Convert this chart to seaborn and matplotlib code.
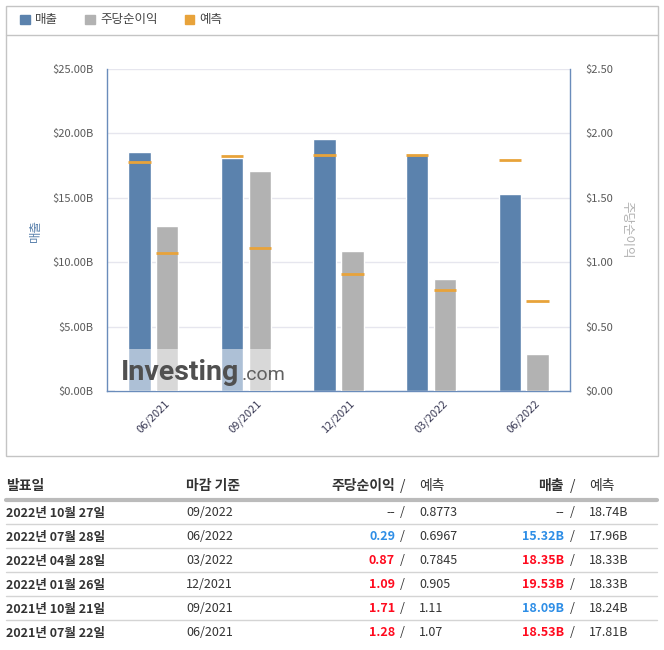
import matplotlib
matplotlib.use('Agg')
import matplotlib.pyplot as plt
from matplotlib.patches import Patch, Rectangle
from matplotlib.lines import Line2D
import numpy as np
import pandas as pd
import seaborn as sns

# quarters, oldest first (last one not reported yet)
periods = ['06/2021', '09/2021', '12/2021', '03/2022', '06/2022', '09/2022']
release_dates = ['2021년 07월 22일', '2021년 10월 21일', '2022년 01월 26일',
                 '2022년 04월 28일', '2022년 07월 28일', '2022년 10월 27일']
eps_actual = [1.28, 1.71, 1.09, 0.87, 0.29, None]
eps_forecast = [1.07, 1.11, 0.905, 0.7845, 0.6967, 0.8773]
rev_actual = [18.53, 18.09, 19.53, 18.35, 15.32, None]      # billions
rev_forecast = [17.81, 18.24, 18.33, 18.33, 17.96, 18.74]

BLUE = '#5b82ad'
GRAY = '#b2b2b2'
ORANGE = '#e8a33a'
AXC = '#6a8cbb'
RED = '#ff0a1e'
LBLUE = '#2e8ee6'
DARK = '#333333'

sns.set_theme(style='white')
plt.rcParams['font.family'] = ['Noto Sans CJK KR', 'DejaVu Sans']

W, H = 664, 650
fig = plt.figure(figsize=(W / 100, H / 100), dpi=100)


def fx(x):
    return x / W


def fy(y):
    return 1 - y / H


ax = fig.add_axes([fx(107), fy(391), (570 - 107) / W, (391 - 69) / H])
ax2 = ax.twinx()

n = 5
chart = pd.DataFrame({'period': periods[:n], '매출': rev_actual[:n], '주당순이익': eps_actual[:n]})
long = chart.melt(id_vars='period', var_name='series', value_name='value')
hue_order = ['매출', '주당순이익']
palette = {'매출': BLUE, '주당순이익': GRAY}

sns.barplot(data=long[long.series == '매출'], x='period', y='value', hue='series',
            hue_order=hue_order, palette=palette, order=periods[:n], width=0.6, gap=0.2,
            dodge=True, saturation=1, legend=False, ax=ax)
sns.barplot(data=long[long.series == '주당순이익'], x='period', y='value', hue='series',
            hue_order=hue_order, palette=palette, order=periods[:n], width=0.6, gap=0.2,
            dodge=True, saturation=1, legend=False, ax=ax2)

# forecast markers across each bar
for a, fc in ((ax, rev_forecast), (ax2, eps_forecast)):
    bars = sorted(a.patches, key=lambda p: p.get_x())
    for p, v in zip(bars, fc[:n]):
        a.hlines(v, p.get_x(), p.get_x() + p.get_width(), color=ORANGE, lw=2, zorder=5)

ax.set_ylim(0, 25)
ax2.set_ylim(0, 2.5)
ax.set_xlim(-0.5, n - 0.5)
lt = np.arange(0, 25.01, 5)
ax.set_yticks(lt)
ax.set_yticklabels([f'${v:.2f}B' for v in lt])
rt = np.arange(0, 2.501, 0.5)
ax2.set_yticks(rt)
ax2.set_yticklabels([f'${v:.2f}' for v in rt])
ax.tick_params(axis='y', length=0, pad=10, labelsize=8, labelcolor='#5a5a5a')
ax2.tick_params(axis='y', length=0, pad=11, labelsize=8, labelcolor='#5a5a5a')

ax.set_xticks(range(n))
ax.set_xticklabels(periods[:n], rotation=45, ha='center', va='top')
ax.tick_params(axis='x', length=0, pad=5, labelsize=8, labelcolor='#3a3a55')
ax.set_xticks(np.arange(-0.5, n, 1), minor=True)
ax.tick_params(axis='x', which='minor', length=5, width=1, color=AXC, direction='out')

ax.set_xlabel('')
ax.set_ylabel('')
ax2.set_ylabel('')
ax.yaxis.grid(True, color='#e6e6ee', lw=1)
ax.xaxis.grid(False)
ax2.grid(False)
ax.set_axisbelow(True)

for s in ('top', 'right'):
    ax.spines[s].set_visible(False)
for s in ('left', 'bottom'):
    ax.spines[s].set_color(AXC)
    ax.spines[s].set_linewidth(1)
for s in ('top', 'left', 'bottom'):
    ax2.spines[s].set_visible(False)
ax2.spines['right'].set_color(AXC)
ax2.spines['right'].set_linewidth(1)

fig.text(fx(35), fy(230), '매출', rotation=90, color=BLUE, fontsize=9, ha='center', va='center')
fig.text(fx(627), fy(230), '주당순이익', rotation=270, color='#b0b0b0', fontsize=9,
         ha='center', va='center')

# watermark
fig.add_artist(Rectangle((fx(115), fy(391)), (290 - 115) / W, (391 - 349) / H,
                         transform=fig.transFigure, color='white', alpha=0.5, lw=0, zorder=1))
fig.text(fx(121), fy(380), 'Investing', fontsize=20.5, fontweight='bold', family='Roboto',
         color='#505050', va='baseline', zorder=3)
fig.text(fx(242), fy(380), '.com', fontsize=14, family='Roboto', color='#606060',
         va='baseline', zorder=3)

# chart frame + legend
fig.add_artist(Rectangle((fx(6), fy(456)), (658 - 6) / W, (456 - 6) / H,
                         transform=fig.transFigure, fill=False, ec='#c4c4c4', lw=1))
fig.add_artist(Line2D([fx(6), fx(658)], [fy(35), fy(35)], color='#c4c4c4', lw=1))
handles = [Patch(color=BLUE, label='매출'), Patch(color=GRAY, label='주당순이익'),
           Patch(color=ORANGE, label='예측')]
fig.legend(handles=handles, loc='center left', bbox_to_anchor=(fx(9), fy(20)), ncol=3,
           frameon=False, fontsize=9, handlelength=0.75, handleheight=0.75,
           handletextpad=0.45, columnspacing=2.15, labelcolor='#444444')

# table
hy = 486
fig.text(fx(6), fy(hy), '발표일', fontsize=10, fontweight='bold', color=DARK, va='center')
fig.text(fx(186), fy(hy), '마감 기준', fontsize=10, fontweight='bold', color=DARK, va='center')
fig.text(fx(395), fy(hy), '주당순이익', fontsize=10, fontweight='bold', color=DARK,
         ha='right', va='center')
fig.text(fx(400), fy(hy), '/', fontsize=10, color=DARK, va='center')
fig.text(fx(419), fy(hy), '예측', fontsize=10, color=DARK, va='center')
fig.text(fx(564), fy(hy), '매출', fontsize=10, fontweight='bold', color=DARK,
         ha='right', va='center')
fig.text(fx(570), fy(hy), '/', fontsize=10, color=DARK, va='center')
fig.text(fx(589), fy(hy), '예측', fontsize=10, color=DARK, va='center')
fig.add_artist(Line2D([fx(6), fx(657)], [fy(500), fy(500)], color='#bbbbbb', lw=3))

rows = list(range(len(periods)))[::-1]
for k, i in enumerate(rows):
    y = 513 + 24 * k
    fig.text(fx(6), fy(y), release_dates[i], fontsize=9, fontweight='bold', color=DARK, va='center')
    fig.text(fx(186), fy(y), periods[i], fontsize=9, color=DARK, va='center')
    if eps_actual[i] is None:
        fig.text(fx(395), fy(y), '--', fontsize=9, color=DARK, ha='right', va='center')
    else:
        c = RED if eps_actual[i] >= eps_forecast[i] else LBLUE
        fig.text(fx(395), fy(y), f'{eps_actual[i]:.2f}', fontsize=9, fontweight='bold',
                 color=c, ha='right', va='center')
    fig.text(fx(400), fy(y), '/', fontsize=9, color=DARK, va='center')
    fig.text(fx(419), fy(y), f'{eps_forecast[i]}', fontsize=9, color=DARK, va='center')
    if rev_actual[i] is None:
        fig.text(fx(564), fy(y), '--', fontsize=9, color=DARK, ha='right', va='center')
    else:
        c = RED if rev_actual[i] >= rev_forecast[i] else LBLUE
        fig.text(fx(564), fy(y), f'{rev_actual[i]:.2f}B', fontsize=9, fontweight='bold',
                 color=c, ha='right', va='center')
    fig.text(fx(570), fy(y), '/', fontsize=9, color=DARK, va='center')
    fig.text(fx(589), fy(y), f'{rev_forecast[i]:.2f}B', fontsize=9, color=DARK, va='center')
    if k < len(rows) - 1:
        fig.add_artist(Line2D([fx(6), fx(657)], [fy(y + 11), fy(y + 11)], color='#d4d4d4', lw=1))

fig.savefig('out.png', dpi=100)
